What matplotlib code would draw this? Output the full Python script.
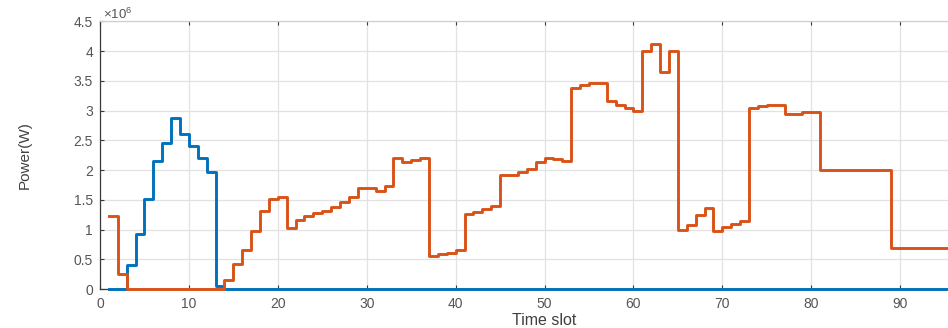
import matplotlib
matplotlib.use("Agg")
import matplotlib.pyplot as plt
from matplotlib.ticker import FormatStrFormatter, MultipleLocator

plt.rcParams['font.family'] = ['Liberation Sans', 'DejaVu Sans']
plt.rcParams['mathtext.default'] = 'regular'

# time slots 1..96, power in units of 10^6 W
slots = list(range(1, 97))
x_ticks = [0, 10, 20, 30, 40, 50, 60, 70, 80, 90]

power_s1 = [0.00, 0.00, 0.40, 0.92, 1.52, 2.15, 2.45, 2.87, 2.60, 2.40,
            2.20, 1.97, 0.05, 0.00, 0.00, 0.00, 0.00, 0.00, 0.00, 0.00,
            0.00, 0.00, 0.00, 0.00, 0.00, 0.00, 0.00, 0.00, 0.00, 0.00,
            0.00, 0.00, 0.00, 0.00, 0.00, 0.00, 0.00, 0.00, 0.00, 0.00,
            0.00, 0.00, 0.00, 0.00, 0.00, 0.00, 0.00, 0.00, 0.00, 0.00,
            0.00, 0.00, 0.00, 0.00, 0.00, 0.00, 0.00, 0.00, 0.00, 0.00,
            0.00, 0.00, 0.00, 0.00, 0.00, 0.00, 0.00, 0.00, 0.00, 0.00,
            0.00, 0.00, 0.00, 0.00, 0.00, 0.00, 0.00, 0.00, 0.00, 0.00,
            0.00, 0.00, 0.00, 0.00, 0.00, 0.00, 0.00, 0.00, 0.00, 0.00,
            0.00, 0.00, 0.00, 0.00, 0.00, 0.00]

power_s2 = [1.22, 0.25, 0.00, 0.00, 0.00, 0.00, 0.00, 0.00, 0.00, 0.00,
            0.00, 0.00, 0.00, 0.15, 0.42, 0.65, 0.97, 1.31, 1.51, 1.55,
            1.02, 1.16, 1.22, 1.27, 1.31, 1.38, 1.47, 1.55, 1.70, 1.70,
            1.65, 1.73, 2.21, 2.14, 2.17, 2.21, 0.56, 0.58, 0.60, 0.65,
            1.26, 1.30, 1.34, 1.39, 1.92, 1.92, 1.97, 2.01, 2.13, 2.21,
            2.19, 2.15, 3.37, 3.43, 3.47, 3.47, 3.16, 3.09, 3.05, 3.00,
            4.00, 4.12, 3.65, 4.00, 0.99, 1.08, 1.24, 1.36, 0.97, 1.04,
            1.10, 1.15, 3.05, 3.07, 3.09, 3.10, 2.94, 2.94, 2.97, 2.97,
            2.00, 2.00, 2.00, 2.00, 2.00, 2.00, 2.00, 2.00, 0.69, 0.69,
            0.69, 0.69, 0.69, 0.69, 0.69, 0.69]

fig = plt.figure(figsize=(9.48, 3.28), dpi=100)
# axes run past the right edge of the figure (x up to 100)
ax = fig.add_axes([0.1055, 0.1189, 0.9378, 0.8163])

ax.step(slots, power_s1, where='post', color='#0072BD', lw=2.1, clip_on=False, zorder=3)
ax.step(slots, power_s2, where='post', color='#D95319', lw=2.1, clip_on=False, zorder=4)

ax.set_xlim(0, 100)
ax.set_ylim(0, 4.5)
ax.set_xticks(x_ticks)
ax.yaxis.set_major_locator(MultipleLocator(0.5))
ax.yaxis.set_major_formatter(FormatStrFormatter('%g'))

ax.grid(True, color='#e2e2e2', lw=0.9)
ax.set_axisbelow(True)

ax.spines['left'].set_color('#3a3a3a')
ax.spines['bottom'].set_color('#3a3a3a')
ax.spines['top'].set_color('#cfcfcf')
ax.spines['right'].set_visible(False)
for s in ax.spines.values():
    s.set_linewidth(0.9)

ax.tick_params(direction='in', length=3, width=0.8, colors='#3a3a3a',
               labelcolor='#555555', labelsize=10, top=True)
ax.tick_params(axis='x', pad=6)
ax.tick_params(axis='y', pad=5)

ax.set_xlabel('Time slot', fontsize=11.5, color='#404040', labelpad=1)
ax.set_ylabel('Power(W)', fontsize=11, color='#404040', labelpad=30)

# exponent label above the y axis
ax.text(0.003, 0.999, r'$\times10^{6}$', transform=ax.transAxes,
        fontsize=9.5, color='#555555', ha='left', va='bottom')

fig.savefig('out.png', dpi=100)
